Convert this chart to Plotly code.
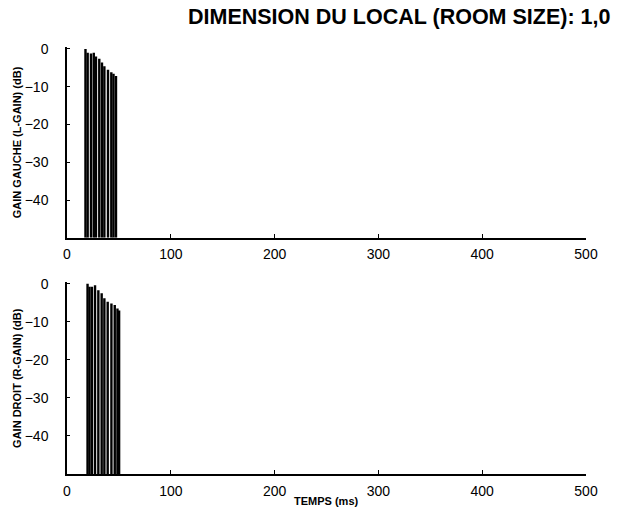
import plotly.graph_objects as go
from plotly.subplots import make_subplots

# Data
left_times = [17.8, 19.9, 23.1, 25.8, 27.9, 31.1, 33.7, 36.0, 39.5, 42.7, 44.8, 47.2]
left_gain = [0.0, -1.0, -1.2, -1.0, -2.0, -2.6, -3.6, -4.6, -5.5, -6.2, -6.6, -7.2]
right_times = [19.8, 21.7, 24.0, 27.0, 30.2, 33.4, 36.0, 39.2, 42.8, 46.0, 48.6, 50.2]
right_gain = [0.0, -0.8, -0.8, -0.4, -1.7, -2.5, -3.8, -4.7, -5.2, -5.6, -6.5, -7.0]
x_ticks = [0, 100, 200, 300, 400, 500]
y_ticks = [0, -10, -20, -30, -40]
y_ticktext = ["0", "\u221210", "\u221220", "\u221230", "\u221240"]
floor_db = -50

def stems(times, gains):
    xs, ys = [], []
    for t, g in zip(times, gains):
        xs += [t, t, None]
        ys += [floor_db, g, None]
    return xs, ys

fig = make_subplots(rows=2, cols=1, vertical_spacing=0.1)
for r, (t, g) in enumerate([(left_times, left_gain), (right_times, right_gain)], start=1):
    xs, ys = stems(t, g)
    fig.add_trace(go.Scatter(x=xs, y=ys, mode="lines",
                             line=dict(color="black", width=2.4),
                             hoverinfo="skip", showlegend=False), row=r, col=1)

axfont = dict(family="Liberation Sans, Arial, sans-serif", size=14, color="black")
for ax in ["xaxis", "xaxis2"]:
    fig.layout[ax].update(range=[0, 500], tickvals=x_ticks, ticks="inside", ticklen=4,
                          showline=True, linecolor="black", linewidth=1.5, tickcolor="black",
                          showgrid=False, zeroline=False, tickfont=axfont,
                          ticklabelstandoff=3)
for ax in ["yaxis", "yaxis2"]:
    fig.layout[ax].update(range=[floor_db, 0.5], tickvals=y_ticks, ticktext=y_ticktext,
                          ticks="inside", ticklen=3, showline=True, linecolor="black",
                          linewidth=1.5, tickcolor="black", showgrid=False, zeroline=False,
                          tickfont=axfont, ticklabelstandoff=14)
fig.layout.yaxis.domain = [0.553, 1.0]
fig.layout.yaxis2.domain = [0.0, 0.45]

labfont = dict(family="Liberation Sans, Arial, sans-serif", size=11, color="black")
fig.update_layout(
    width=618, height=511,
    margin=dict(l=67, r=32, t=47, b=37),
    paper_bgcolor="white", plot_bgcolor="white",
    annotations=[
        dict(text="<b>DIMENSION DU LOCAL (ROOM SIZE): 1,0</b>", xref="paper", yref="paper",
             x=1.0, xshift=26, y=1.0, xanchor="right", yanchor="middle", yshift=30, showarrow=False,
             font=dict(family="Liberation Sans, Arial", size=21.5, color="black")),
        dict(text="<b>GAIN GAUCHE (L-GAIN) (dB)</b>", xref="paper", yref="paper",
             x=0, xshift=-50, xanchor="center", y=0.777, yanchor="middle",
             textangle=-90, showarrow=False, font=labfont),
        dict(text="<b>GAIN DROIT (R-GAIN) (dB)</b>", xref="paper", yref="paper",
             x=0, xshift=-50, xanchor="center", y=0.225, yanchor="middle",
             textangle=-90, showarrow=False, font=labfont),
        dict(text="<b>TEMPS (ms)</b>", xref="paper", yref="paper",
             x=0.5, y=0, yshift=-27, yanchor="middle", showarrow=False, font=labfont),
    ],
)
fig.write_html("out.html", config={"displayModeBar": False},
               post_script="document.body.style.margin='0';")
